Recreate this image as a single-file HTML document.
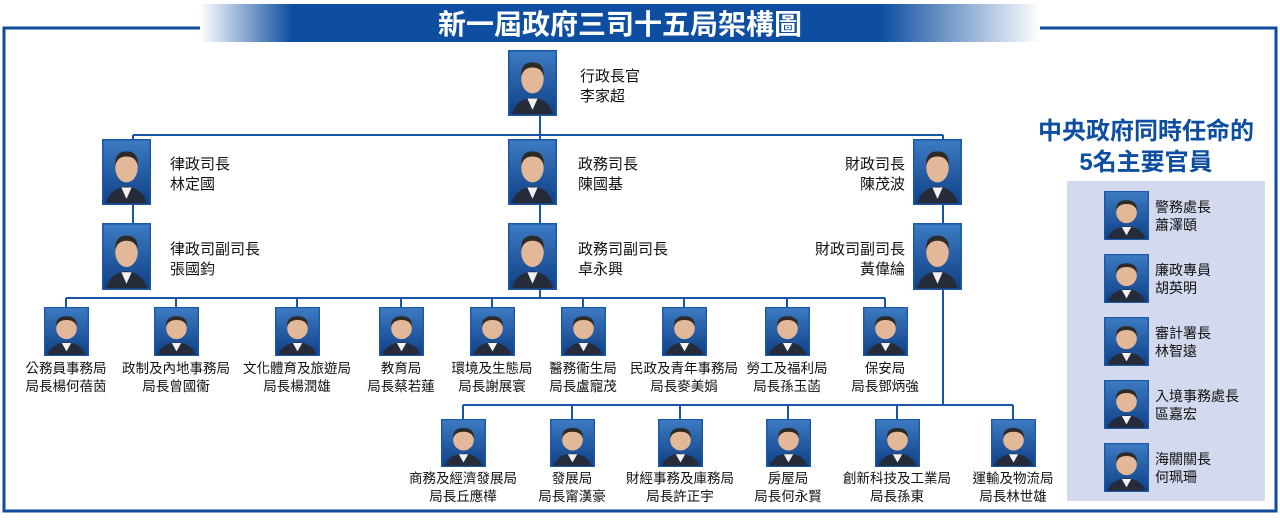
<!DOCTYPE html>
<html><head><meta charset="utf-8"><style>
body{margin:0;background:#fff;}
svg{display:block;}
text{font-family:"Liberation Sans","Noto Sans CJK TC",sans-serif;}
.l{font-size:13.5px;fill:#111;}
.b{font-size:15px;fill:#111;}
</style></head><body>
<svg width="1280" height="524" viewBox="0 0 1280 524" xmlns="http://www.w3.org/2000/svg">
<defs>
<linearGradient id="bn" x1="0" x2="1" y1="0" y2="0">
<stop offset="0" stop-color="#0d4ea0" stop-opacity="0"/>
<stop offset="0.11" stop-color="#0d4ea0"/>
<stop offset="0.81" stop-color="#0d4ea0"/>
<stop offset="1" stop-color="#0d4ea0" stop-opacity="0"/>
</linearGradient>
<linearGradient id="pb" x1="0" x2="0" y1="0" y2="1">
<stop offset="0" stop-color="#3d7cc4"/><stop offset="1" stop-color="#0f3f85"/>
</linearGradient>
<symbol id="p" viewBox="0 0 48 64" preserveAspectRatio="none">
<rect x="0" y="0" width="48" height="64" fill="url(#pb)"/>
<path d="M4 64 Q6 48 24 46 Q42 48 44 64Z" fill="#262b3a"/>
<path d="M19 47 L24 58 L29 47Z" fill="#f2f2f2"/>
<ellipse cx="24" cy="28" rx="11" ry="14" fill="#e2b898"/>
<path d="M13 26 Q12 12 24 12 Q36 12 35 26 Q33 17 24 17 Q15 17 13 26Z" fill="#2e2a28"/>
<rect x="0.75" y="0.75" width="46.5" height="62.5" fill="none" stroke="#1b58a8" stroke-width="1.5"/>
</symbol>
</defs>
<rect x="4" y="28" width="1272" height="483" fill="none" stroke="#0f4c9c" stroke-width="3"/>
<rect x="200" y="4" width="840" height="38" fill="#fff"/>
<rect x="200" y="4" width="840" height="38" fill="url(#bn)"/>
<text x="620" y="34" text-anchor="middle" font-size="28" font-weight="bold" fill="#fff">新一屆政府三司十五局架構圖</text>

<g stroke="#1a56a8" stroke-width="2" fill="none">
<path d="M540 116 V135 M133 135 H943 M133 135 V139 M943 135 V139 M540 135 V139"/>
<path d="M133 205 V223 M540 205 V223 M943 205 V223"/>
<path d="M540 290 V298 M66 298 H885 M66 298 V307 M176 298 V307 M297 298 V307 M401 298 V307 M492 298 V307 M583 298 V307 M684 298 V307 M787 298 V307 M885 298 V307"/>
<path d="M943 290 V405 M463 405 H1013 M463 405 V419 M572 405 V419 M680 405 V419 M788 405 V419 M897 405 V419 M1013 405 V419"/>
</g>

<use href="#p" x="508" y="50" width="49" height="66"/>
<text class="b" x="580" y="81">行政長官</text><text class="b" x="580" y="101">李家超</text>

<use href="#p" x="102" y="139" width="49" height="66"/>
<text class="b" x="170" y="169">律政司長</text><text class="b" x="170" y="189">林定國</text>
<use href="#p" x="508" y="139" width="49" height="66"/>
<text class="b" x="578" y="169">政務司長</text><text class="b" x="578" y="189">陳國基</text>
<use href="#p" x="913" y="139" width="49" height="66"/>
<text class="b" x="905" y="169" text-anchor="end">財政司長</text><text class="b" x="905" y="189" text-anchor="end">陳茂波</text>

<use href="#p" x="102" y="223" width="49" height="67"/>
<text class="b" x="170" y="254">律政司副司長</text><text class="b" x="170" y="274">張國鈞</text>
<use href="#p" x="508" y="223" width="49" height="67"/>
<text class="b" x="578" y="254">政務司副司長</text><text class="b" x="578" y="274">卓永興</text>
<use href="#p" x="913" y="223" width="49" height="67"/>
<text class="b" x="905" y="254" text-anchor="end">財政司副司長</text><text class="b" x="905" y="274" text-anchor="end">黃偉綸</text>

<g class="l" text-anchor="middle">
<use href="#p" x="44" y="307" width="45" height="49"/><text x="66" y="373">公務員事務局</text><text x="66" y="391">局長楊何蓓茵</text>
<use href="#p" x="154" y="307" width="45" height="49"/><text x="176" y="373">政制及內地事務局</text><text x="176" y="391">局長曾國衞</text>
<use href="#p" x="275" y="307" width="45" height="49"/><text x="297" y="373">文化體育及旅遊局</text><text x="297" y="391">局長楊潤雄</text>
<use href="#p" x="379" y="307" width="45" height="49"/><text x="401" y="373">教育局</text><text x="401" y="391">局長蔡若蓮</text>
<use href="#p" x="470" y="307" width="45" height="49"/><text x="492" y="373">環境及生態局</text><text x="492" y="391">局長謝展寰</text>
<use href="#p" x="561" y="307" width="45" height="49"/><text x="583" y="373">醫務衞生局</text><text x="583" y="391">局長盧寵茂</text>
<use href="#p" x="662" y="307" width="45" height="49"/><text x="684" y="373">民政及青年事務局</text><text x="684" y="391">局長麥美娟</text>
<use href="#p" x="765" y="307" width="45" height="49"/><text x="787" y="373">勞工及福利局</text><text x="787" y="391">局長孫玉菡</text>
<use href="#p" x="863" y="307" width="45" height="49"/><text x="885" y="373">保安局</text><text x="885" y="391">局長鄧炳強</text>
</g>
<g class="l" text-anchor="middle">
<use href="#p" x="441" y="419" width="45" height="48"/><text x="463" y="483">商務及經濟發展局</text><text x="463" y="501">局長丘應樺</text>
<use href="#p" x="550" y="419" width="45" height="48"/><text x="572" y="483">發展局</text><text x="572" y="501">局長甯漢豪</text>
<use href="#p" x="658" y="419" width="45" height="48"/><text x="680" y="483">財經事務及庫務局</text><text x="680" y="501">局長許正宇</text>
<use href="#p" x="766" y="419" width="45" height="48"/><text x="788" y="483">房屋局</text><text x="788" y="501">局長何永賢</text>
<use href="#p" x="875" y="419" width="45" height="48"/><text x="897" y="483">創新科技及工業局</text><text x="897" y="501">局長孫東</text>
<use href="#p" x="991" y="419" width="45" height="48"/><text x="1013" y="483">運輸及物流局</text><text x="1013" y="501">局長林世雄</text>
</g>

<text x="1146" y="139" text-anchor="middle" font-size="24" font-weight="bold" fill="#0d4ea0">中央政府同時任命的</text>
<text x="1146" y="170" text-anchor="middle" font-size="24" font-weight="bold" fill="#0d4ea0">5名主要官員</text>
<rect x="1067" y="181" width="198" height="320" fill="#d3d9ee"/>
<g class="l" style="font-size:14px">
<use href="#p" x="1104" y="191" width="45" height="49"/><text x="1155" y="212">警務處長</text><text x="1155" y="230">蕭澤頤</text>
<use href="#p" x="1104" y="254" width="45" height="49"/><text x="1155" y="275">廉政專員</text><text x="1155" y="293">胡英明</text>
<use href="#p" x="1104" y="317" width="45" height="49"/><text x="1155" y="338">審計署長</text><text x="1155" y="356">林智遠</text>
<use href="#p" x="1104" y="380" width="45" height="49"/><text x="1155" y="401">入境事務處長</text><text x="1155" y="419">區嘉宏</text>
<use href="#p" x="1104" y="443" width="45" height="49"/><text x="1155" y="464">海關關長</text><text x="1155" y="482">何珮珊</text>
</g>
</svg>
</body></html>
